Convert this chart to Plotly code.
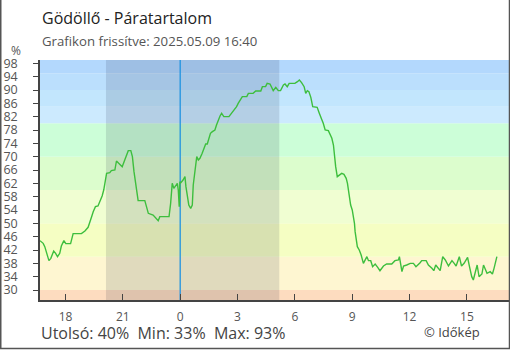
import plotly.graph_objects as go
import pandas as pd

# minutes relative to 2025-05-09 00:00 and relative humidity (%)
minutes = [-440, -430, -425, -420, -412, -406, -397, -391, -385, -378, -373, -365, -359, -344,
           -339, -336, -310, -299, -289, -284, -278, -273, -266, -258, -252, -245, -240, -234,
           -231, -221, -216, -205, -200, -193, -182, -174, -163, -155, -150, -145, -137, -132,
           -111, -106, -100, -85, -74, -69, -64, -35, -30, -25, -20, -14, -9, -6, -3, -1,
           2, 9, 15, 18, 22, 27, 33, 38, 41, 45, 48, 52, 57, 62, 69, 74, 80, 85, 90, 95, 101,
           109, 114, 119, 125, 130, 137, 153, 161, 169, 177, 182, 190, 195, 209, 214, 229, 237,
           253, 258, 268, 273, 282, 287, 292, 300, 308, 315, 324, 329, 336, 342, 360, 368, 374,
           381, 389, 394, 399, 404, 410, 416, 430, 436, 439, 444, 449, 455, 465, 470, 476, 481,
           484, 488, 493, 499, 507, 514, 521, 525, 528, 531, 535, 540, 543, 547, 549, 552, 556,
           562, 568, 575, 586, 591, 598, 604, 612, 620, 627, 638, 648, 664, 674, 685, 688, 696,
           701, 711, 722, 732, 740, 753, 758, 772, 779, 790, 796, 802, 811, 816, 824, 832, 842,
           853, 860, 866, 876, 883, 891, 902, 908, 915, 920, 926, 932, 938, 947, 952, 957, 963,
           973, 980, 985, 991, 994]
humidity = [44.8, 44, 43, 41.5, 38.8, 39.5, 41.7, 41, 40, 41, 43.2, 44.8, 43.9, 43.9,
            45.5, 46.9, 46.9, 47.7, 48.8, 50, 52, 53.5, 55, 55.2, 56.5, 58.2, 60, 64,
            65, 65.2, 65.8, 66, 68.7, 68, 67, 69, 71.8, 71.8, 70, 65.5, 60.5, 56.8,
            56.8, 54.8, 53, 52.5, 51.2, 50.8, 52, 52, 56, 62, 60.5, 61.2, 62, 60, 55, 62.5,
            62.2, 63, 64, 61, 58, 55.5, 54.5, 55.5, 61.5, 65, 68.5, 70, 69, 69.5, 71, 72.5, 73.8, 73.8, 75.5, 77, 77.5,
            78, 79.5, 81, 82.2, 83, 82, 82, 83, 84, 85, 86, 87.2, 88, 88, 89, 89, 89.7,
            89.7, 91, 91, 92, 91.8, 90.5, 89.8, 90.8, 89.8, 89.8, 91.5, 91.8, 91, 92, 92, 92.5, 93,
            92.2, 91, 89, 89.8, 89.5, 87.8, 85, 84.8, 83.2, 82.2, 81.2, 80, 78, 77.8, 76.5, 75.5, 73.5,
            69.5, 67, 64, 64.5, 65, 64.7, 63.5, 62, 60, 58, 55.5, 54, 52.5, 50, 47.5, 45, 43,
            42, 40.5, 38, 40, 38.8, 38.8, 37, 37.8, 36.8, 35.8, 37.2, 37.8, 37.8, 38.8, 39, 40, 35.5,
            37.2, 37.5, 38, 38, 37, 38.2, 38.8, 38.8, 37.5, 36.5, 35.8, 37.5, 36.2, 35.8, 40, 39, 37.2,
            38.8, 38, 37.2, 40, 37.2, 38, 39.8, 37, 34, 33, 35.5, 37.5, 34, 34.8, 37.5, 36.2, 35,
            35.5, 34.8, 36.5, 39, 40]

base = pd.Timestamp("2025-05-09 00:00")
times = [base + pd.Timedelta(minutes=m) for m in minutes]

band_edges = [27, 30, 40, 50, 60, 70, 80, 85, 90, 95, 99]
band_colors = ["#fddcbf", "#fef6d1", "#f5fec3", "#f0fed2", "#dcfdcd", "#ccfed8",
               "#cceafe", "#c2e6fd", "#bbdffd", "#b3d8fd"]
night = ["2025-05-08 20:07", "2025-05-09 05:11"]
midnight = "2025-05-09 00:00"
x_range = ["2025-05-08 16:40", "2025-05-09 17:12"]
tick_times = ["2025-05-08 18:00", "2025-05-08 21:00", "2025-05-09 00:00", "2025-05-09 03:00",
              "2025-05-09 06:00", "2025-05-09 09:00", "2025-05-09 12:00", "2025-05-09 15:00"]
tick_text = ["18", "21", "0", "3", "6", "9", "12", "15"]
y_ticks = list(range(30, 99, 4))

title = "Gödöllő - Páratartalom"
subtitle = "Grafikon frissítve: 2025.05.09 16:40"
stats = "Utolsó: 40%  Min: 33%  Max: 93%"
credit = "© Időkép"

FONT = "Open Sans"

fig = go.Figure()
fig.add_trace(go.Scatter(x=times, y=humidity, mode="lines",
                         line=dict(color="#3dbe3d", width=1.4), hoverinfo="skip",
                         showlegend=False))

shapes = []
for i, c in enumerate(band_colors):
    shapes.append(dict(type="rect", xref="paper", yref="y", x0=0, x1=1,
                       y0=band_edges[i], y1=band_edges[i + 1], fillcolor=c,
                       line=dict(width=0), layer="below"))
shapes.append(dict(type="rect", xref="x", yref="paper", x0=night[0], x1=night[1], y0=0, y1=1,
                   fillcolor="rgba(10,20,50,0.12)", line=dict(width=0), layer="below"))
shapes.append(dict(type="line", xref="x", yref="paper", x0=midnight, x1=midnight, y0=0, y1=1,
                   line=dict(color="#1f93e0", width=1.3), layer="below"))
# outer frame (left, bottom, right)
W, H = 469.0, 240.0
def px(xp):
    return (xp - 40) / W
def py(yp):
    return (300 - yp) / H
shapes.append(dict(type="path", xref="paper", yref="paper",
                   path=f"M {px(0.75)} {py(0)} L {px(0.75)} {py(348.5)} L {px(509.5)} {py(348.5)} L {px(509.5)} {py(0)}",
                   line=dict(color="#555555", width=1.5)))

annotations = [
    dict(text=title, x=px(40), y=py(18), xref="paper", yref="paper", xanchor="left",
         yanchor="middle", showarrow=False, font=dict(family=FONT, size=16, color="#222222")),
    dict(text=subtitle, x=px(40), y=py(41), xref="paper", yref="paper", xanchor="left",
         yanchor="middle", showarrow=False, font=dict(family=FONT, size=13.2, color="#555555")),
    dict(text="%", x=px(15.5), y=py(51), xref="paper", yref="paper", xanchor="center",
         yanchor="middle", showarrow=False, font=dict(family=FONT, size=12, color="#555555")),
    dict(text=stats, x=px(39), y=py(333), xref="paper", yref="paper", xanchor="left",
         yanchor="middle", showarrow=False, font=dict(family=FONT, size=16, color="#444444")),
    dict(text=credit, x=px(482), y=py(332), xref="paper", yref="paper", xanchor="right",
         yanchor="middle", showarrow=False, font=dict(family=FONT, size=13, color="#444444")),
]

fig.update_layout(
    width=510, height=350,
    margin=dict(l=40, r=1, t=60, b=50, autoexpand=False),
    paper_bgcolor="white", plot_bgcolor="white",
    shapes=shapes, annotations=annotations,
    xaxis=dict(type="date", range=x_range, tickvals=tick_times, ticktext=tick_text,
               ticks="inside", ticklen=6, tickcolor="#444444", tickwidth=1,
               showline=True, linecolor="#444444", linewidth=1.5, showgrid=False,
               zeroline=False, tickfont=dict(family=FONT, size=12, color="#555555"),
               ticklabelstandoff=5, fixedrange=True),
    yaxis=dict(range=[27, 99], tickvals=y_ticks, ticks="outside", ticklen=5,
               tickcolor="#444444", tickwidth=1, showline=True, linecolor="#444444",
               linewidth=1.5, showgrid=False, zeroline=False,
               tickfont=dict(family=FONT, size=12.5, color="#555555"),
               ticklabelstandoff=13, fixedrange=True),
    yaxis2=dict(range=[27, 99], tickvals=y_ticks, ticks="inside", ticklen=6,
                tickcolor="#444444", tickwidth=1, showticklabels=False, showline=False,
                showgrid=False, zeroline=False, overlaying="y", side="left",
                fixedrange=True),
)

fig.write_html("out.html")
